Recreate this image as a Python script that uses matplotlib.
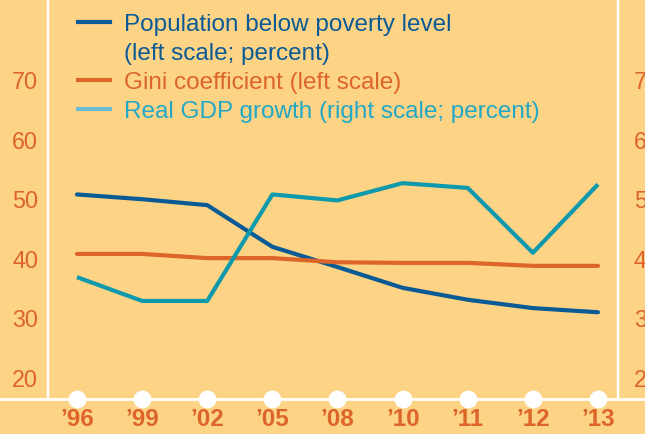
import matplotlib.pyplot as plt
from matplotlib.lines import Line2D

years = ["\u201996", "\u201999", "\u201902", "\u201905", "\u201908", "\u201910", "\u201911", "\u201912", "\u201913"]
poverty = [50.6, 49.8, 48.8, 41.8, 38.4, 34.9, 32.9, 31.5, 30.8]
gini = [40.6, 40.6, 39.9, 39.9, 39.2, 39.1, 39.1, 38.6, 38.6]
gdp = [3.67, 3.27, 3.27, 5.06, 4.96, 5.25, 5.17, 4.08, 5.23]
left_ticks = [20, 30, 40, 50, 60, 70]
right_ticks = [2, 3, 4, 5, 6, 7]

BG = '#FDD485'
BLUE = '#0A5A96'
ORANGE = '#DD6529'
TEAL = '#0E9AAC'
TEAL_LIGHT = '#6BBCD0'
TEAL_TEXT = '#22A8C6'

plt.rcParams['font.family'] = ['Liberation Sans', 'DejaVu Sans']

W, H = 645, 435
fig = plt.figure(figsize=(W / 100, H / 100), dpi=100, facecolor=BG)
ax = fig.add_axes([48 / W, 35 / H, 570 / W, 400 / H])
ax.set_facecolor(BG)

x = list(range(len(years)))
ax.plot(x, poverty, color=BLUE, lw=3, solid_capstyle='round')
ax.plot(x, gini, color=ORANGE, lw=3, solid_capstyle='round')

ax.set_xlim(-0.445, 8.307)
ax.set_ylim(16.22, 83.45)

ax2 = ax.twinx()
ax2.plot(x, gdp, color=TEAL, lw=3, solid_capstyle='butt')
ax2.set_ylim(1.622, 8.345)

for a in (ax, ax2):
    for s in ('top', 'bottom'):
        a.spines[s].set_visible(False)
    for s in ('left', 'right'):
        a.spines[s].set_color('white')
        a.spines[s].set_linewidth(1.6)

ax.set_yticks(left_ticks)
ax.set_yticklabels([str(t) for t in left_ticks])
ax.tick_params(axis='y', length=0, pad=7, labelsize=16.8, labelcolor=ORANGE)
# right-hand labels run off the edge of the panel, as in the original
ax2.set_yticks(right_ticks)
ax2.set_yticklabels([str(t) for t in right_ticks])
ax2.tick_params(axis='y', length=0, pad=11.5, labelsize=16.8, labelcolor=ORANGE)

ax.set_xticks(x)
ax.set_xticklabels(years, fontweight='bold')
ax.tick_params(axis='x', length=0, pad=5.5, labelsize=17.5, labelcolor=ORANGE)

# white baseline across the whole width, with dots at each year
fig.add_artist(Line2D([0, 1], [35 / H, 35 / H], color='white', lw=2, transform=fig.transFigure))
ax.scatter(x, [16.22] * len(x), s=140, color='white', zorder=5, clip_on=False)

handles = [
    Line2D([], [], color=BLUE, lw=3),
    Line2D([], [], color='none', lw=3),
    Line2D([], [], color=ORANGE, lw=3),
    Line2D([], [], color=TEAL_LIGHT, lw=3),
]
labels = ["Population below poverty level", "(left scale; percent)",
          "Gini coefficient (left scale)", "Real GDP growth (right scale; percent)"]
leg = ax.legend(handles, labels, loc='upper left', bbox_to_anchor=(78 / W, 1 - 14 / H),
                bbox_transform=fig.transFigure, frameon=False, fontsize=17.5,
                handlelength=1.3, handletextpad=0.6, labelspacing=0.29,
                borderpad=0, borderaxespad=0)
for t, c in zip(leg.get_texts(), [BLUE, BLUE, ORANGE, TEAL_TEXT]):
    t.set_color(c)

fig.savefig('out.png', dpi=100, facecolor=BG)
